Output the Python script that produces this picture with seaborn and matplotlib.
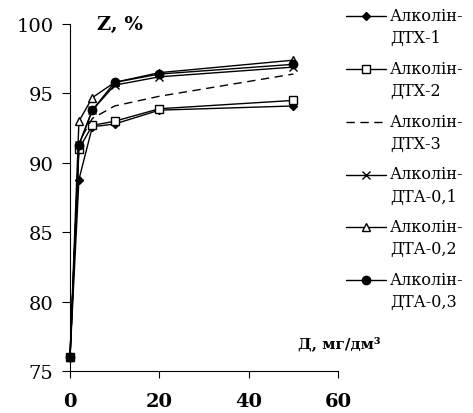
import pandas as pd
import matplotlib
matplotlib.use("Agg")
import matplotlib.pyplot as plt
from matplotlib.legend_handler import HandlerLine2D
import seaborn as sns

# dose, mg/dm3
doses = [0, 2, 5, 10, 20, 50]

series_names = ["Алколін-\nДТХ-1", "Алколін-\nДТХ-2", "Алколін-\nДТХ-3",
                "Алколін-\nДТА-0,1", "Алколін-\nДТА-0,2", "Алколін-\nДТА-0,3"]

# protection degree Z, %
dtx_1 = [76.0, 88.8, 92.6, 92.8, 93.8, 94.1]
dtx_2 = [76.0, 91.0, 92.7, 93.0, 93.9, 94.5]
dtx_3 = [76.0, 91.5, 93.2, 94.1, 94.8, 96.4]
dta_01 = [76.0, 91.3, 93.8, 95.6, 96.2, 96.9]
dta_02 = [76.0, 93.0, 94.7, 95.8, 96.5, 97.4]
dta_03 = [76.0, 91.3, 93.8, 95.8, 96.4, 97.1]

values = [dtx_1, dtx_2, dtx_3, dta_01, dta_02, dta_03]

sns.set_style("ticks")
plt.rcParams['font.family'] = ['DejaVu Serif', 'Liberation Serif']
plt.rcParams.update({"axes.edgecolor": "black", "xtick.color": "black",
                     "ytick.color": "black", "text.color": "black"})

# marker, face colour, marker size, line style for each series
styles = [
    ("D", "black", 4, "-"),
    ("s", "white", 6, "-"),
    (None, "black", 0, (0, (6, 4))),
    ("x", "black", 6, "-"),
    ("^", "white", 6, "-"),
    ("o", "black", 6, "-"),
]


class FirstLineHandler(HandlerLine2D):
    # put the legend sample next to the first line of a two-line label
    def create_artists(self, legend, orig_handle, xdescent, ydescent,
                       width, height, fontsize, trans):
        return super().create_artists(legend, orig_handle, xdescent,
                                      ydescent - 16, width, height,
                                      fontsize, trans)


fig = plt.figure(figsize=(4.73, 4.14), dpi=100)
ax = fig.add_axes([0.148, 0.1014, 0.5666, 0.838])

handles = []
for name, vals, (mk, fc, ms, ls) in zip(series_names, values, styles):
    df = pd.DataFrame({"dose": doses, "Z": vals})
    sns.lineplot(data=df, x="dose", y="Z", color="black", linewidth=1.0,
                 linestyle=ls, marker=mk, markersize=ms,
                 markerfacecolor=fc, markeredgecolor="black",
                 markeredgewidth=1.0, ax=ax)
    ax.lines[-1].set_clip_on(False)
    handles.append(ax.lines[-1])

ax.set_xlim(0, 60)
ax.set_ylim(75, 100)
ax.set_xticks([0, 20, 40, 60])
ax.set_yticks([75, 80, 85, 90, 95, 100])
ax.tick_params(axis="x", labelsize=14, direction="out", length=5, pad=10)
ax.tick_params(axis="y", labelsize=14, direction="out", length=6, pad=6)
for lab in ax.get_xticklabels():
    lab.set_fontweight("bold")
ax.set_xlabel("")
ax.set_ylabel("")
sns.despine(ax=ax)

ax.text(6, 100, "Z, %", fontsize=14, fontweight="bold", va="center", ha="left")
ax.text(51, 77.0, "Д, мг/дм³", fontsize=11, fontweight="bold",
        va="center", ha="left", clip_on=False)

leg = fig.legend(handles, series_names, loc="upper left",
                 bbox_to_anchor=(0.715, 1.0), frameon=False, fontsize=11.5,
                 handlelength=2.5, handletextpad=0.25, labelspacing=0.85,
                 borderaxespad=0.1,
                 handler_map={h: FirstLineHandler() for h in handles})
for t in leg.get_texts():
    t.set_linespacing(1.4)

fig.savefig("out.png", dpi=100)
